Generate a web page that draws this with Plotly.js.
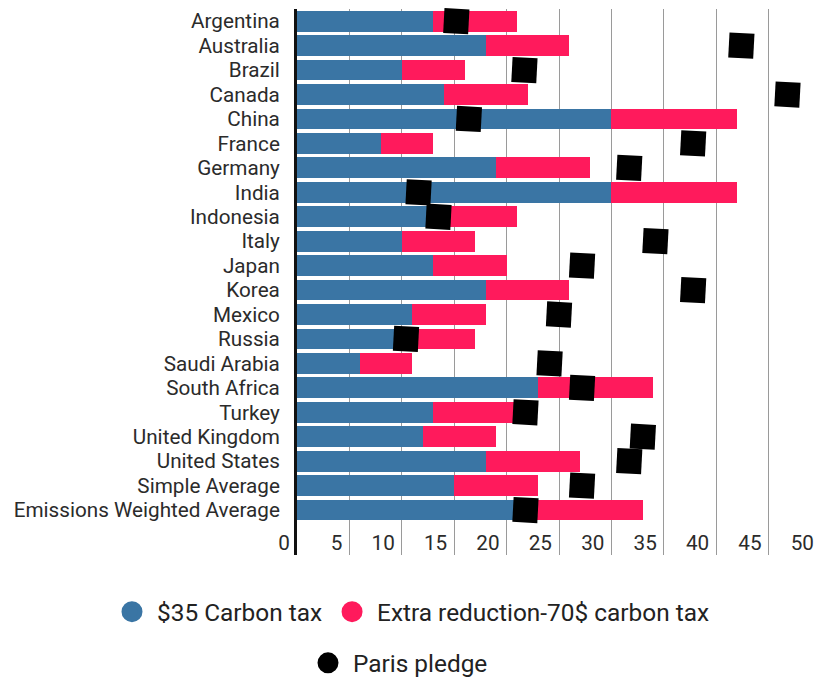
<!DOCTYPE html>
<html>
<head>
<meta charset="utf-8">
<script src="https://cdn.plot.ly/plotly-3.0.1.min.js"></script>
<style>
html, body { margin: 0; padding: 0; overflow: hidden; background: #fff; }
#chart { width: 821px; height: 677px; }
</style>
</head>
<body>
<div id="chart"></div>
<script>
// ---- data ----
const countries = ["Argentina", "Australia", "Brazil", "Canada", "China", "France", "Germany", "India",
  "Indonesia", "Italy", "Japan", "Korea", "Mexico", "Russia", "Saudi Arabia", "South Africa", "Turkey",
  "United Kingdom", "United States", "Simple Average", "Emissions Weighted Average"];
const tax35 = [13, 18, 10, 14, 30, 8, 19, 30, 14, 10, 13, 18, 11, 10.5, 6, 23, 13, 12, 18, 15, 22];
const extra70 = [8, 8, 6, 8, 12, 5, 9, 12, 7, 7, 7, 8, 7, 6.5, 5, 11, 8, 7, 9, 8, 11];
const paris = [15.2, 42.4, 21.7, 46.8, 16.4, 37.8, 31.7, 11.6, 13.5, 34.2, 27.2, 37.8, 25.0, 10.4, 24.1,
  27.2, 21.8, 33.0, 31.7, 27.2, 21.8];
const xTicks = [0, 5, 10, 15, 20, 25, 30, 35, 40, 45, 50];
const seriesNames = ["$35 Carbon tax", "Extra reduction-70$ carbon tax", "Paris pledge"];

const BLUE = "#3a75a4", PINK = "#ff1a5c", BLACK = "#000000";
const FONT = "Roboto, 'Noto Sans', sans-serif";

const traces = [
  { type: "bar", orientation: "h", y: countries, x: tax35, name: seriesNames[0],
    marker: { color: BLUE }, showlegend: false, hoverinfo: "x+y" },
  { type: "bar", orientation: "h", y: countries, x: extra70, name: seriesNames[1],
    marker: { color: PINK }, showlegend: false, hoverinfo: "x+y" },
  { type: "scatter", mode: "markers", y: countries, x: paris, name: seriesNames[2],
    marker: { symbol: "square", size: 25, color: BLACK, angle: 3 }, showlegend: false, cliponaxis: false },
  // legend entries (circle symbols)
  { type: "scatter", mode: "markers", x: [null], y: [null], name: seriesNames[0], legend: "legend",
    marker: { symbol: "circle", size: 16, color: BLUE, line: { width: 5, color: BLUE } } },
  { type: "scatter", mode: "markers", x: [null], y: [null], name: seriesNames[1], legend: "legend",
    marker: { symbol: "circle", size: 16, color: PINK, line: { width: 5, color: PINK } } },
  { type: "scatter", mode: "markers", x: [null], y: [null], name: seriesNames[2], legend: "legend2",
    marker: { symbol: "circle", size: 16, color: BLACK, line: { width: 5, color: BLACK } } }
];

const layout = {
  width: 821, height: 677,
  margin: { l: 297, r: 0, t: 9, b: 122 },
  paper_bgcolor: "#ffffff", plot_bgcolor: "#ffffff",
  font: { family: FONT, size: 20.7, color: "#2b2b2b" },
  barmode: "stack", bargap: 0.15,
  xaxis: {
    range: [0, 50], tickvals: xTicks, ticktext: xTicks.map(String),
    showgrid: true, gridcolor: "#9a9a9a", gridwidth: 1.3, zeroline: false, showline: false,
    ticks: "", ticklabelposition: "inside left", ticklabeloverflow: "allow",
    ticklabelshift: -7, ticklabelstandoff: -5,
    tickfont: { family: FONT, size: 20.7, color: "#2b2b2b" }, fixedrange: true, automargin: false
  },
  yaxis: {
    type: "category", range: [21.84, -0.5], showgrid: false, zeroline: false,
    tickmode: "array", tickvals: countries, ticktext: countries,
    showline: true, linecolor: "#111111", linewidth: 3,
    ticks: "", ticklabelstandoff: 10, automargin: false,
    tickfont: { family: FONT, size: 20.7, color: "#2b2b2b" }, fixedrange: true
  },
  legend: {
    orientation: "h", xref: "paper", yref: "paper", x: -0.3626, xanchor: "left",
    y: -0.104, yanchor: "middle", itemwidth: 40, traceorder: "normal",
    font: { family: FONT, size: 24.4, color: "#222" },
    bgcolor: "rgba(0,0,0,0)", itemclick: false, itemdoubleclick: false
  },
  legend2: {
    orientation: "h", xref: "container", yref: "container", x: 398 / 821, xanchor: "center",
    y: 1 - 663 / 677, yanchor: "middle", itemwidth: 40, traceorder: "normal",
    font: { family: FONT, size: 24.4, color: "#222" },
    bgcolor: "rgba(0,0,0,0)", itemclick: false, itemdoubleclick: false
  },
  showlegend: true
};

Plotly.newPlot("chart", traces, layout, { displayModeBar: false });
</script>
</body>
</html>
